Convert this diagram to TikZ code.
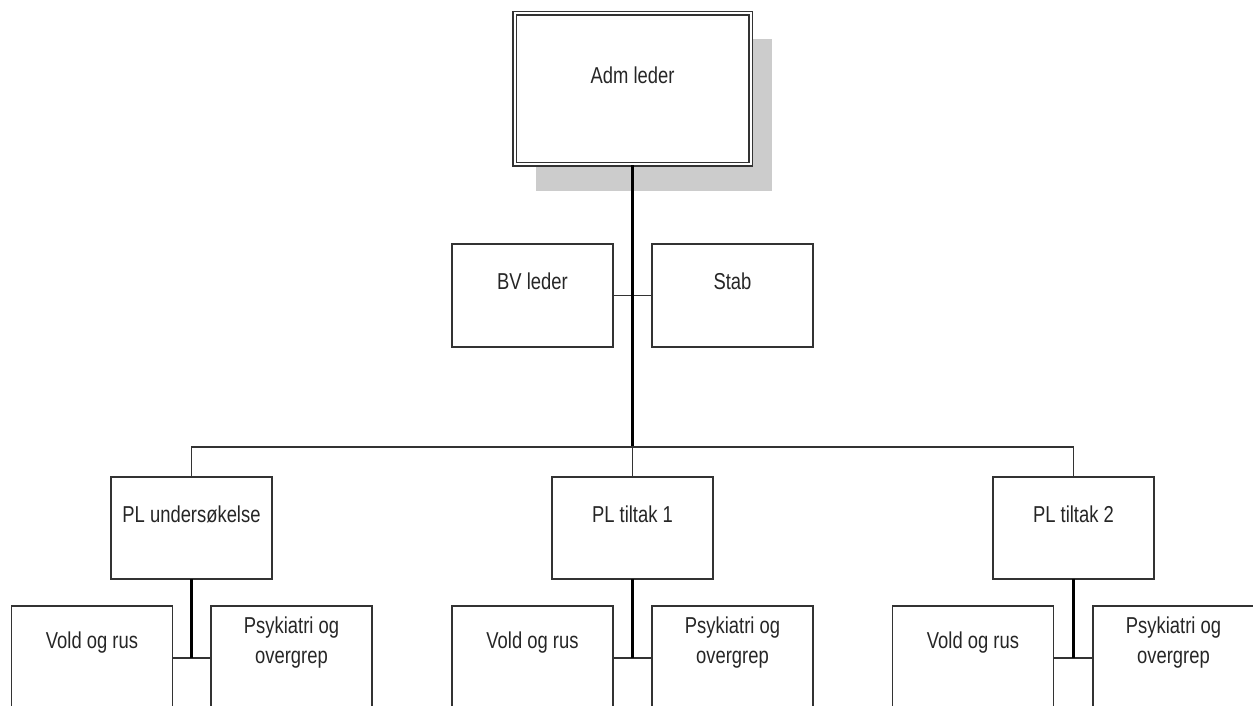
\documentclass[tikz,border=0pt]{standalone}
\usepackage{fontspec}
\setmainfont{Liberation Sans}[FakeStretch=0.8]
\usetikzlibrary{shadows}
\begin{document}
\begin{tikzpicture}[x=1pt,y=-1pt,
  font={\fontsize{23}{30}\selectfont},
  box/.style={draw=black!80, line width=1.8pt, fill=white, rectangle,
    minimum width=161pt, minimum height=103pt, inner sep=0pt, outer sep=0pt},
  lbl/.style={anchor=center, yshift=-37pt, align=center, text=black!85, inner sep=0pt},
  thin/.style={draw=black!80, line width=1.8pt},
  thick/.style={draw=black, line width=3.2pt},
  topbox/.style={draw=black!80, line width=1.9pt, double=white, double distance=2pt,
    fill=white, rectangle, minimum width=236pt, minimum height=151pt, inner sep=0pt,
    drop shadow={shadow xshift=21pt, shadow yshift=-26pt, fill=black!20, opacity=1}}
]
\clip (0,0) rectangle (1253,706);
\fill[white] (0,0) rectangle (1253,706);

\coordinate (bus) at (632.5,447);
\coordinate (busL) at (191.5,447);
\coordinate (busR) at (1073.5,447);

% top
\node[topbox] (adm) at (632.5,89) {};
\node[anchor=center, text=black!85] (admt) at (632.5,75) {Adm leder};

% second level
\node[box, label={[lbl]north:BV leder}] (bv) at (532.5,295.5) {};
\node[box, label={[lbl]north:Stab}] (stab) at (732.5,295.5) {};

% PL level
\node[box, minimum height=102pt, label={[lbl]north:PL undersøkelse}] (pl0) at (191.5,528) {};
\node[box, minimum height=102pt, label={[lbl]north:PL tiltak 1}] (pl1) at (632.5,528) {};
\node[box, minimum height=102pt, label={[lbl]north:PL tiltak 2}] (pl2) at (1073.5,528) {};

% bottom level
\node[box, label={[lbl]north:Vold og rus}] (v0) at (92,657.5) {};
\node[box, label={[lbl]north:Psykiatri og\\overgrep}] (p0) at (291.5,657.5) {};
\node[box, label={[lbl]north:Vold og rus}] (v1) at (532.5,657.5) {};
\node[box, label={[lbl]north:Psykiatri og\\overgrep}] (p1) at (732.5,657.5) {};
\node[box, label={[lbl]north:Vold og rus}] (v2) at (973,657.5) {};
\node[box, label={[lbl]north:Psykiatri og\\overgrep}] (p2) at (1173.5,657.5) {};

% connectors
\draw[thin] (bv.east) -- (stab.west);
\draw[thick] (adm.south) -- (bus);
\draw[thin] (pl0.north) -- (busL) -- (busR) -- (pl2.north);
\draw[thin] (bus) -- (pl1.north);

\coordinate (j0) at (191.5,658);
\coordinate (j1) at (632.5,658);
\coordinate (j2) at (1073.5,658);
\draw[thin] (v0.east |- j0) -- (p0.west |- j0);
\draw[thin] (v1.east |- j1) -- (p1.west |- j1);
\draw[thin] (v2.east |- j2) -- (p2.west |- j2);
\draw[thick] (pl0.south) -- (j0);
\draw[thick] (pl1.south) -- (j1);
\draw[thick] (pl2.south) -- (j2);
\end{tikzpicture}
\end{document}
